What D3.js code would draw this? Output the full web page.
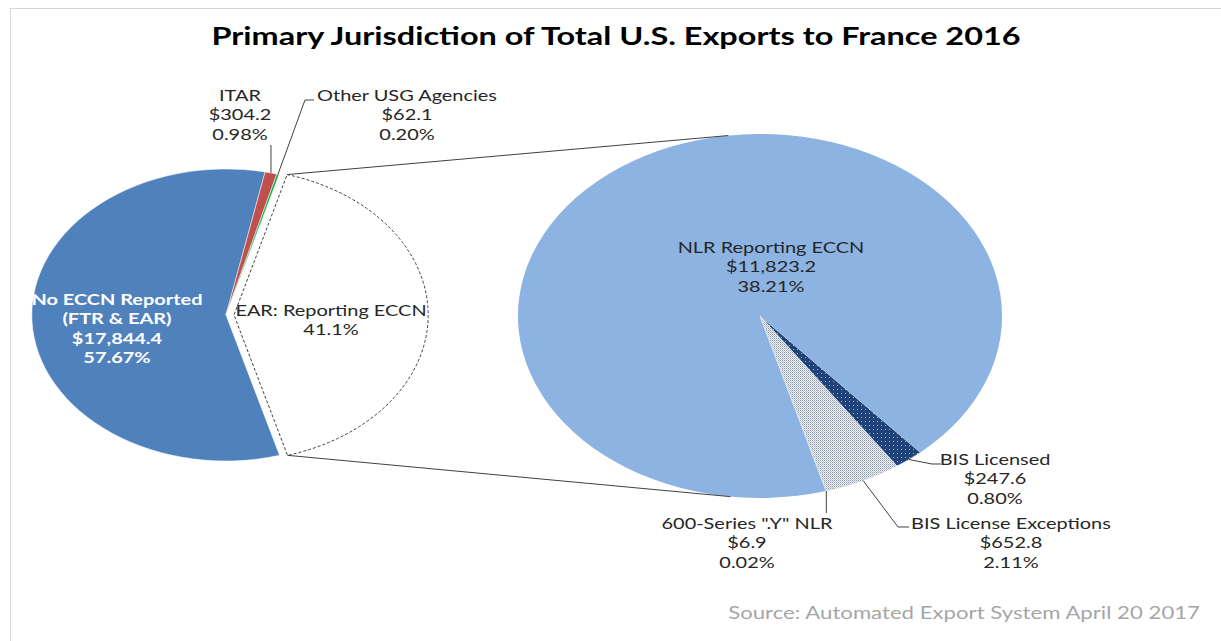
<!DOCTYPE html>
<html><head><meta charset="utf-8">
<script src="https://cdn.jsdelivr.net/npm/d3@7"></script>
<style>html,body{margin:0;padding:0;background:#fff;}svg{display:block;}</style>
</head><body>
<svg id="c" width="1221" height="641"></svg>
<script>
// ---- data ----
const title = "Primary Jurisdiction of Total U.S. Exports to France 2016";
const source = "Source: Automated Export System April 20 2017";
const mainLabels = ["No ECCN Reported|(FTR & EAR)", "ITAR", "Other USG Agencies", "EAR: Reporting ECCN"];
const mainValues = [17844.4, 304.2, 62.1, 12730.5];
const mainPct = ["57.67%", "0.98%", "0.20%", "41.1%"];
const subLabels = ["NLR Reporting ECCN", "BIS Licensed", "BIS License Exceptions", '600-Series ".Y" NLR'];
const subValues = [11823.2, 247.6, 652.8, 6.9];
const subPct = ["38.21%", "0.80%", "2.11%", "0.02%"];

// ---- drawing ----
const SX = 1.33;
const X = v => v / SX;
const deg = a => a * Math.PI / 180;
const svg = d3.select("#c");
svg.append("rect").attr("width", 1221).attr("height", 641).attr("fill", "#fff");
svg.append("rect").attr("x", 10.5).attr("y", 8.5).attr("width", 1300).attr("height", 700)
  .attr("fill", "none").attr("stroke", "#d9d9d9").attr("stroke-width", 1);

const defs = svg.append("defs");
const p1 = defs.append("pattern").attr("id", "navyDots").attr("patternUnits", "userSpaceOnUse")
  .attr("width", 4).attr("height", 4).attr("patternTransform", `scale(${1/SX},1)`);
p1.append("rect").attr("width", 4).attr("height", 4).attr("fill", "#1f4378");
p1.append("rect").attr("x", 1).attr("y", 1).attr("width", 1).attr("height", 1).attr("fill", "#9fb2cf");
const p2 = defs.append("pattern").attr("id", "grayDots").attr("patternUnits", "userSpaceOnUse")
  .attr("width", 2).attr("height", 2).attr("patternTransform", `scale(${1/SX},1)`);
p2.append("rect").attr("width", 2).attr("height", 2).attr("fill", "#f2f4f7");
p2.append("rect").attr("x", 0).attr("y", 0).attr("width", 1).attr("height", 1).attr("fill", "#8a97aa");
p2.append("rect").attr("x", 1).attr("y", 1).attr("width", 1).attr("height", 1).attr("fill", "#b9c2cf");

const g = svg.append("g").attr("transform", `scale(${SX},1)`);
const fmt = v => "$" + d3.format(",.1f")(v);

// main pie
const mc = {x: X(226), y: 315, r: 146};
const mainPie = d3.pie().sort(null).startAngle(deg(164)).endAngle(deg(164 + 360));
const mainArcs = mainPie(mainValues);
const mainArc = d3.arc().innerRadius(0).outerRadius(mc.r);
const mainColors = ["#4f81bd", "#c0504d", "#1fae4b", "#ffffff"];
const explode = X(8);
const mg = g.append("g").attr("transform", `translate(${mc.x},${mc.y})`);
mainArcs.forEach((a, i) => {
  const mid = (a.startAngle + a.endAngle) / 2;
  const off = i === 3 ? explode : 0;
  const p = mg.append("path").attr("d", mainArc(a))
    .attr("transform", `translate(${off*Math.sin(mid)},${-off*Math.cos(mid)})`)
    .attr("fill", mainColors[i]).attr("vector-effect", "non-scaling-stroke");
  if (i === 3) p.attr("stroke", "#404040").attr("stroke-width", 1).attr("stroke-dasharray", "3,2");
  else p.attr("stroke", "#fff").attr("stroke-width", 0.5);
});

// secondary pie
const sc = {x: X(760), y: 316, r: 182};
const subPie = d3.pie().sort(null).startAngle(deg(164.2)).endAngle(deg(164.2 + 360));
const subArcs = subPie(subValues);
const subArc = d3.arc().innerRadius(0).outerRadius(sc.r);
const subFill = ["#8db3e2", "url(#navyDots)", "url(#grayDots)", "#c5cfdc"];
const sg = g.append("g").attr("transform", `translate(${sc.x},${sc.y})`);
subArcs.forEach((a, i) => {
  sg.append("path").attr("d", subArc(a)).attr("fill", subFill[i])
    .attr("stroke", i === 0 ? "none" : "#dfe6ef").attr("stroke-width", 0.5)
    .attr("vector-effect", "non-scaling-stroke");
});

// helper: point on a pie at angle
const pt = (c, r, ang, off = 0, mid = 0) => [
  c.x + r * Math.sin(ang) + off * Math.sin(mid),
  c.y - r * Math.cos(ang) - off * Math.cos(mid)
];

// series connector lines
const ear = mainArcs[3];
const earMid = (ear.startAngle + ear.endAngle) / 2;
const eTop = pt(mc, mc.r, ear.startAngle, explode, earMid);
const eBot = pt(mc, mc.r, ear.endAngle, explode, earMid);
const sTop = pt(sc, sc.r, deg(-7.5));
const sBot = pt(sc, sc.r, deg(187));
const line = d3.line();
[[eTop, sTop], [eBot, sBot]].forEach(seg => {
  g.append("path").attr("d", line(seg)).attr("fill", "none").attr("stroke", "#404040")
    .attr("stroke-width", 1).attr("vector-effect", "non-scaling-stroke");
});

// leader lines
function leader(points) {
  g.append("path").attr("d", line(points)).attr("fill", "none").attr("stroke", "#404040")
    .attr("stroke-width", 1).attr("vector-effect", "non-scaling-stroke");
}
const midA = a => (a.startAngle + a.endAngle) / 2;
const itarP = pt(mc, mc.r, midA(mainArcs[1]));
leader([itarP, [itarP[0], 145]]);
const othP = pt(mc, mc.r, midA(mainArcs[2]));
leader([othP, [X(305), 100], [X(314), 100]]);
const bisP = pt(sc, sc.r, midA(subArcs[1]));
leader([bisP, [X(932), 464], [X(941), 464]]);
const bleP = pt(sc, sc.r, midA(subArcs[2]));
leader([bleP, [X(898), 527], [X(909), 527]]);
const y6P = pt(sc, sc.r, midA(subArcs[3]));
leader([y6P, [y6P[0], 513]]);

// text
const FONT = "Lato, 'Open Sans', sans-serif";
function block(lines, cx, y0, opts = {}) {
  const t = g.append("text").attr("text-anchor", opts.anchor || "middle")
    .attr("font-family", FONT).attr("font-size", opts.size || 15)
    .attr("font-weight", opts.weight || "normal").attr("fill", opts.fill || "#262626");
  lines.forEach((s, i) => {
    t.append("tspan").attr("x", X(cx)).attr("y", y0 + i * (opts.lh || 19.5)).text(s);
  });
  return t;
}
block([title], 616, 45, {size: 24.4, weight: "bold", fill: "#000"});
block([mainLabels[1], fmt(mainValues[1]), mainPct[1]], 240, 101);
block([mainLabels[2], fmt(mainValues[2]), mainPct[2]], 407, 101);
block([...mainLabels[0].split("|"), fmt(mainValues[0]), mainPct[0]], 117, 305, {weight: "bold", fill: "#fff"});
block([mainLabels[3], mainPct[3]], 331, 316);
block([subLabels[0], fmt(subValues[0]), subPct[0]], 771, 253);
block([subLabels[1], fmt(subValues[1]), subPct[1]], 995, 465);
block([subLabels[2], fmt(subValues[2]), subPct[2]], 1011, 529);
block([subLabels[3], fmt(subValues[3]), subPct[3]], 747, 529);
block([source], 1200, 619, {anchor: "end", size: 16.7, fill: "#a6a6a6"});
</script>
</body></html>
